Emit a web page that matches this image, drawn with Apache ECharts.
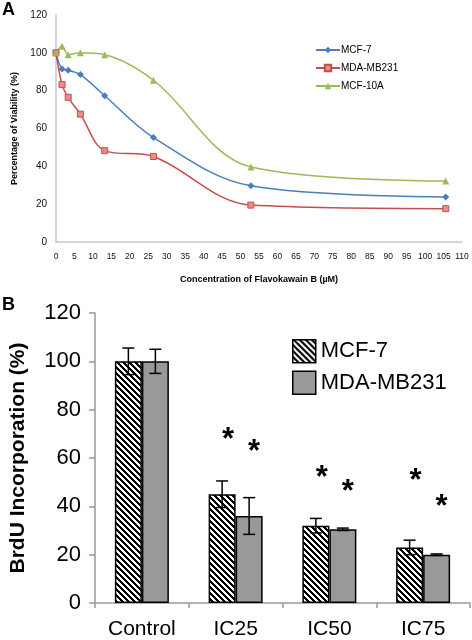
<!DOCTYPE html>
<html><head><meta charset="utf-8">
<script src="https://cdn.jsdelivr.net/npm/echarts@6/dist/echarts.min.js"></script>
<style>html,body{margin:0;padding:0;background:#fff}#c{width:472px;height:640px}</style>
</head><body><div id="c"></div>
<script>
// ---- Panel A data ----
const concA = [0, 1.65, 3.3, 6.6, 13.2, 26.4, 52.8, 105.6];
const mcf7A = [100, 91.5, 90.8, 88.5, 77.3, 55.2, 29.7, 23.8];
const mdaA = [100, 83.2, 76.5, 67.6, 48.3, 45.2, 19.5, 17.6];
const mcf10aA = [100, 103.5, 99, 100, 99, 85.5, 39.7, 32.2];
const xTicksA = [0, 5, 10, 15, 20, 25, 30, 35, 40, 45, 50, 55, 60, 65, 70, 75, 80, 85, 90, 95, 100, 105, 110];
// ---- Panel B data ----
const catsB = ['Control', 'IC25', 'IC50', 'IC75'];
const mcf7B = [100, 45, 32, 23];
const mcf7Err = [5.5, 5.5, 3, 3];
const mdaB = [100, 36, 30.5, 20];
const mdaErr = [5, 7.6, 0.5, 0.3];
const mcf7Star = [null, 70.6, 54.8, 53.4];
const mdaStar = [null, 65.5, 49.0, 42.7];

const FONT = 'Liberation Sans, Arial, sans-serif';

function hatch() {
  const s = 6, c = document.createElement('canvas');
  c.width = s; c.height = s;
  const ctx = c.getContext('2d');
  ctx.fillStyle = '#fff'; ctx.fillRect(0, 0, s, s);
  ctx.fillStyle = '#000';
  for (let y = 0; y < s; y++) for (let x = 0; x < s; x++) {
    if (((x - y) % s + s) % s < 3) ctx.fillRect(x, y, 1, 1);
  }
  return c;
}
const hatchPat = { image: hatch(), repeat: 'repeat' };

const chart = echarts.init(document.getElementById('c'), null, { renderer: 'canvas' });
const BW = 27;

function errRender(side, errs) {
  return function (params, api) {
    const i = api.value(0), v = api.value(1), e = errs[i];
    const c = api.coord([i, v]);
    const x = c[0] + side * BW / 2;
    const top = api.coord([i, v + e])[1];
    const bot = api.coord([i, v - e])[1];
    const st = { stroke: '#000', lineWidth: 1.5 };
    return { type: 'group', children: [
      { type: 'line', shape: { x1: x, y1: top, x2: x, y2: bot }, style: st },
      { type: 'line', shape: { x1: x - 6, y1: top, x2: x + 6, y2: top }, style: st },
      { type: 'line', shape: { x1: x - 6, y1: bot, x2: x + 6, y2: bot }, style: st }
    ] };
  };
}
function starRender(side, shift) {
  return function (params, api) {
    const i = api.value(0), v = api.value(1);
    const c = api.coord([i, v]);
    return { type: 'text', x: c[0] + side * BW / 2 + shift, y: c[1] + 8,
      style: { text: '*', font: 'bold 31px ' + FONT, fill: '#000', align: 'center', verticalAlign: 'middle' } };
  };
}
function tickLabelRender(params, api) {
  const v = api.value(0);
  const c = api.coord([v, 0]);
  return { type: 'text', x: c[0], y: c[1] + 15, z2: 100,
    style: { text: String(v), font: '8.5px ' + FONT, fill: '#111', align: 'center', verticalAlign: 'middle' } };
}

const option = {
  animation: false,
  backgroundColor: '#fff',
  textStyle: { fontFamily: FONT },
  graphic: [
    { type: 'text', left: 2, top: 1, style: { text: 'A', font: 'bold 18px ' + FONT, fill: '#000' } },
    { type: 'text', left: 2, top: 296, style: { text: 'B', font: 'bold 18px ' + FONT, fill: '#000' } }
  ],
  legend: [
    { data: ['MCF-7', 'MDA-MB231', 'MCF-10A'], orient: 'vertical', left: 310, top: 40,
      itemWidth: 24, itemHeight: 8, itemGap: 8, textStyle: { fontSize: 10, color: '#000', padding: [0, 0, 0, -4] } },
    { data: [{ name: 'MCF-7 ', itemStyle: { color: hatchPat, borderColor: '#000', borderWidth: 1.5 } },
             { name: 'MDA-MB231 ', itemStyle: { color: '#999', borderColor: '#000', borderWidth: 1.5 } }],
      orient: 'vertical', left: 287, top: 334, icon: 'rect',
      itemWidth: 23, itemHeight: 23, itemGap: 7, textStyle: { fontSize: 22, color: '#000' } }
  ],
  grid: [
    { left: 56, top: 15, width: 406, height: 227 },
    { left: 95, top: 313, width: 375, height: 292 }
  ],
  xAxis: [
    { gridIndex: 0, type: 'value', min: 0, max: 110, interval: 5,
      axisLine: { lineStyle: { color: '#c8c8c8', width: 1.5 } }, axisTick: { show: false }, splitLine: { show: false },
      axisLabel: { show: false },
      name: 'Concentration of Flavokawain B (µM)', nameLocation: 'middle', nameGap: 33,
      nameTextStyle: { fontSize: 9, fontWeight: 'bold', color: '#000' } },
    { gridIndex: 1, type: 'category', data: catsB,
      axisLine: { lineStyle: { color: '#999', width: 1.5 } },
      axisTick: { show: true, length: 5, lineStyle: { color: '#999', width: 1.5 } },
      axisLabel: { fontSize: 21, color: '#000', margin: 16 } }
  ],
  yAxis: [
    { gridIndex: 0, type: 'value', min: 0, max: 120, interval: 20,
      axisLine: { show: true, lineStyle: { color: '#c8c8c8', width: 1.5 } }, axisTick: { show: false }, splitLine: { show: false },
      axisLabel: { fontSize: 10, color: '#111', margin: 9 },
      name: 'Percentage of Viability (%)', nameLocation: 'middle', nameGap: 33, nameRotate: 90,
      nameTextStyle: { fontSize: 9, fontWeight: 'bold', color: '#000' } },
    { gridIndex: 1, type: 'value', min: 0, max: 120, interval: 20,
      axisLine: { show: true, lineStyle: { color: '#999', width: 1.5 } },
      axisTick: { show: true, length: 6, lineStyle: { color: '#999', width: 1.5 } }, splitLine: { show: false },
      axisLabel: { fontSize: 22, color: '#000', margin: 14 },
      name: 'BrdU Incorporation (%)', nameLocation: 'middle', nameGap: 66, nameRotate: 90,
      nameTextStyle: { fontSize: 21, fontWeight: 'bold', color: '#000' } }
  ],
  series: [
    { type: 'custom', xAxisIndex: 0, yAxisIndex: 0, renderItem: tickLabelRender, clip: false, silent: true, z: 10,
      data: xTicksA.map(v => [v, 0]) },
    { name: 'MCF-7', type: 'line', xAxisIndex: 0, yAxisIndex: 0, smooth: 0.35,
      data: concA.map((x, i) => [x, mcf7A[i]]), symbol: 'diamond', symbolSize: 7,
      itemStyle: { color: '#4A7EBB' }, lineStyle: { width: 1.5, color: '#4A7EBB' } },
    { name: 'MDA-MB231', type: 'line', xAxisIndex: 0, yAxisIndex: 0, smooth: 0.35,
      data: concA.map((x, i) => [x, mdaA[i]]), symbol: 'rect', symbolSize: 6,
      itemStyle: { color: '#F08A88', borderColor: '#C0504D', borderWidth: 1 }, lineStyle: { width: 1.5, color: '#C0504D' } },
    { name: 'MCF-10A', type: 'line', xAxisIndex: 0, yAxisIndex: 0, smooth: 0.35,
      data: concA.map((x, i) => [x, mcf10aA[i]]), symbol: 'triangle', symbolSize: 7,
      itemStyle: { color: '#9BBB59' }, lineStyle: { width: 1.5, color: '#9BBB59' } },
    { name: 'MCF-7 ', type: 'bar', xAxisIndex: 1, yAxisIndex: 1, data: mcf7B, barWidth: BW, barGap: '0%',
      itemStyle: { color: hatchPat, borderColor: '#000', borderWidth: 1.5 } },
    { name: 'MDA-MB231 ', type: 'bar', xAxisIndex: 1, yAxisIndex: 1, data: mdaB, barWidth: BW, barGap: '0%',
      itemStyle: { color: '#999', borderColor: '#000', borderWidth: 1.5 } },
    { type: 'custom', xAxisIndex: 1, yAxisIndex: 1, renderItem: errRender(-1, mcf7Err),
      data: mcf7B.map((v, i) => [i, v]), z: 5 },
    { type: 'custom', xAxisIndex: 1, yAxisIndex: 1, renderItem: errRender(1, mdaErr),
      data: mdaB.map((v, i) => [i, v]), z: 5 },
    { type: 'custom', xAxisIndex: 1, yAxisIndex: 1, renderItem: starRender(-1, 6),
      data: mcf7Star.map((v, i) => [i, v]).filter(d => d[1] != null), z: 5 },
    { type: 'custom', xAxisIndex: 1, yAxisIndex: 1, renderItem: starRender(1, 5),
      data: mdaStar.map((v, i) => [i, v]).filter(d => d[1] != null), z: 5 }
  ]
};
chart.setOption(option);
</script></body></html>
